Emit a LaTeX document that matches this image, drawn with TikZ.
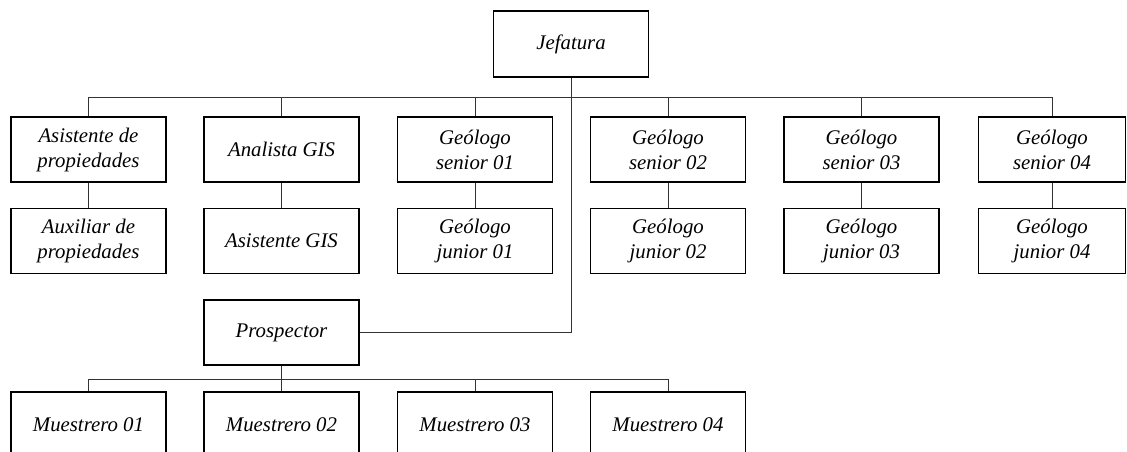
\documentclass[tikz,border=0pt]{standalone}
\usepackage{fontspec}
\setmainfont{Liberation Serif}
\begin{document}
\begin{tikzpicture}[x=1pt,y=-1pt,
  box/.style={draw=black,line width=1.4pt,rectangle,minimum width=155pt,minimum height=65pt,inner sep=0pt,align=center,font=\fontsize{20.8}{25}\selectfont\itshape},
  conn/.style={draw=black!80,line width=1pt}]
\useasboundingbox (0,0) rectangle (1127,452);
\node[box,minimum height=66pt] (j) at (571,44) {Jefatura};
% row 1
\node[box] (s1) at (88.5,149.5) {Asistente de\\propiedades};
\node[box] (s2) at (281.5,149.5) {Analista GIS};
\node[box] (s3) at (475,149.5) {Geólogo\\senior 01};
\node[box] (s4) at (668,149.5) {Geólogo\\senior 02};
\node[box] (s5) at (861.5,149.5) {Geólogo\\senior 03};
\node[box,minimum width=147pt] (s6) at (1052,149.5) {Geólogo\\senior 04};
% row 2
\node[box] (j1) at (88.5,241) {Auxiliar de\\propiedades};
\node[box] (j2) at (281.5,241) {Asistente GIS};
\node[box] (j3) at (475,241) {Geólogo\\junior 01};
\node[box] (j4) at (668,241) {Geólogo\\junior 02};
\node[box] (j5) at (861.5,241) {Geólogo\\junior 03};
\node[box,minimum width=147pt] (j6) at (1052,241) {Geólogo\\junior 04};
% prospector
\node[box] (p) at (281.5,332.5) {Prospector};
% muestreros
\node[box] (m1) at (88.5,424.5) {Muestrero 01};
\node[box] (m2) at (281.5,424.5) {Muestrero 02};
\node[box] (m3) at (475,424.5) {Muestrero 03};
\node[box] (m4) at (668,424.5) {Muestrero 04};
% connectors
\coordinate (bus) at (0,97.3);
\coordinate (mbus) at (0,379);
\draw[conn] (j.south) |- (p.east);
\draw[conn] (s1.north) |- (bus -| s6.north) -- (s6.north);
\foreach \i in {2,3,4,5} {\draw[conn] (s\i.north) -- (s\i.north |- bus);}
\foreach \i in {1,...,6} {\draw[conn] (s\i.south) -- (j\i.north);}
\draw[conn] (p.south) -- (p.south |- mbus);
\draw[conn] (m1.north) |- (mbus -| m4.north) -- (m4.north);
\foreach \i in {2,3} {\draw[conn] (m\i.north) -- (m\i.north |- mbus);}
\end{tikzpicture}
\end{document}
